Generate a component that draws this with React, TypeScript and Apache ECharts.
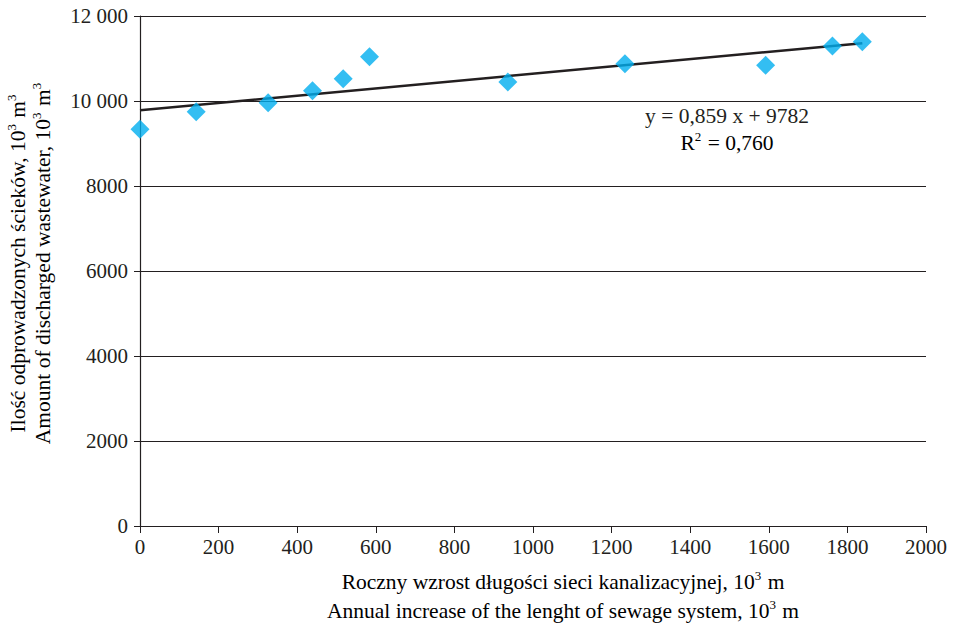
import React, { useEffect, useRef } from "react";
import * as echarts from "echarts";

const xValues = [0, 143, 326, 439, 517, 584, 936, 1234, 1592, 1762, 1838];
const yValues = [9334, 9748, 9960, 10242, 10525, 11042, 10447, 10878, 10840, 11294, 11395];
const slope = 0.859;
const intercept = 9782;
const trendX = [0, 1838];
const yTicks = [0, 2000, 4000, 6000, 8000, 10000, 12000];
const xTickStep = 200;

const FONT = "'Liberation Serif', 'Times New Roman', serif";
const INK = "#231f20";

export default function App() {
  const ref = useRef<HTMLDivElement>(null);
  useEffect(() => {
    if (!ref.current) return;
    const chart = echarts.init(ref.current, undefined, { renderer: "svg" });
    const pts = xValues.map((x, i) => [x, yValues[i]]);
    const trend = trendX.map((x) => [x, slope * x + intercept]);
    const sup = { fontSize: 13, fontFamily: FONT, color: INK, verticalAlign: "top", lineHeight: 14, padding: [0, 1, 12, 0] };
    const main = { fontSize: 21.5, fontFamily: FONT, color: INK, lineHeight: 26 };
    chart.setOption({
      animation: false,
      grid: { left: 140, right: 31, top: 16, bottom: 102, containLabel: false },
      xAxis: {
        type: "value",
        min: 0,
        max: 2000,
        interval: xTickStep,
        axisLine: { show: true, lineStyle: { color: INK, width: 1.2 } },
        axisTick: { show: true, length: 7, lineStyle: { color: INK } },
        splitLine: { show: false },
        axisLabel: { fontFamily: FONT, fontSize: 21, color: INK, margin: 10, formatter: (v: number) => String(v) },
      },
      yAxis: {
        type: "value",
        min: yTicks[0],
        max: yTicks[yTicks.length - 1],
        interval: 2000,
        axisLine: { show: true, lineStyle: { color: INK, width: 1.2 } },
        axisTick: { show: true, length: 6, lineStyle: { color: INK } },
        splitLine: { show: true, lineStyle: { color: INK, width: 1 } },
        axisLabel: {
          fontFamily: FONT,
          fontSize: 21,
          color: INK,
          margin: 12,
          formatter: (v: number) => (v >= 10000 ? String(v).replace(/(\d+)(\d{3})$/, "$1 $2") : String(v)),
        },
      },
      series: [
        {
          type: "line",
          data: trend,
          symbol: "none",
          lineStyle: { color: INK, width: 2.5 },
          z: 3,
        },
        {
          type: "scatter",
          data: pts,
          symbol: "diamond",
          symbolSize: [19, 19],
          itemStyle: { color: "#00aeef" },
          z: 4,
        },
      ],
      graphic: [
        {
          type: "text",
          x: 727,
          y: 116,
          style: { text: "y = 0,859 x + 9782", font: `21.5px ${FONT}`, fill: INK, textAlign: "center", textVerticalAlign: "middle" },
        },
        {
          type: "text",
          x: 727,
          y: 143,
          style: {
            text: "{m|R}{s|2}{m| = 0,760}",
            rich: { m: main, s: sup },
            textAlign: "center",
            textVerticalAlign: "middle",
          },
        },
        {
          type: "text",
          x: 563,
          y: 582,
          style: {
            text: "{m|Roczny wzrost długości sieci kanalizacyjnej, 10}{s|3}{m| m}",
            rich: { m: main, s: sup },
            textAlign: "center",
            textVerticalAlign: "middle",
          },
        },
        {
          type: "text",
          x: 563,
          y: 611,
          style: {
            text: "{m|Annual increase of the lenght of sewage system, 10}{s|3}{m| m}",
            rich: { m: main, s: sup },
            textAlign: "center",
            textVerticalAlign: "middle",
          },
        },
        {
          type: "text",
          x: 18,
          y: 263,
          rotation: Math.PI / 2,
          style: {
            text: "{m|Ilość odprowadzonych ścieków, 10}{s|3}{m| m}{s|3}",
            rich: { m: main, s: sup },
            textAlign: "center",
            textVerticalAlign: "middle",
          },
        },
        {
          type: "text",
          x: 43,
          y: 263,
          rotation: Math.PI / 2,
          style: {
            text: "{m|Amount of discharged wastewater, 10}{s|3}{m| m}{s|3}",
            rich: { m: main, s: sup },
            textAlign: "center",
            textVerticalAlign: "middle",
          },
        },
      ],
    });
    return () => chart.dispose();
  }, []);
  return <div ref={ref} style={{ width: 957, height: 628, position: "absolute", left: 0, top: 0 }} />;
}
